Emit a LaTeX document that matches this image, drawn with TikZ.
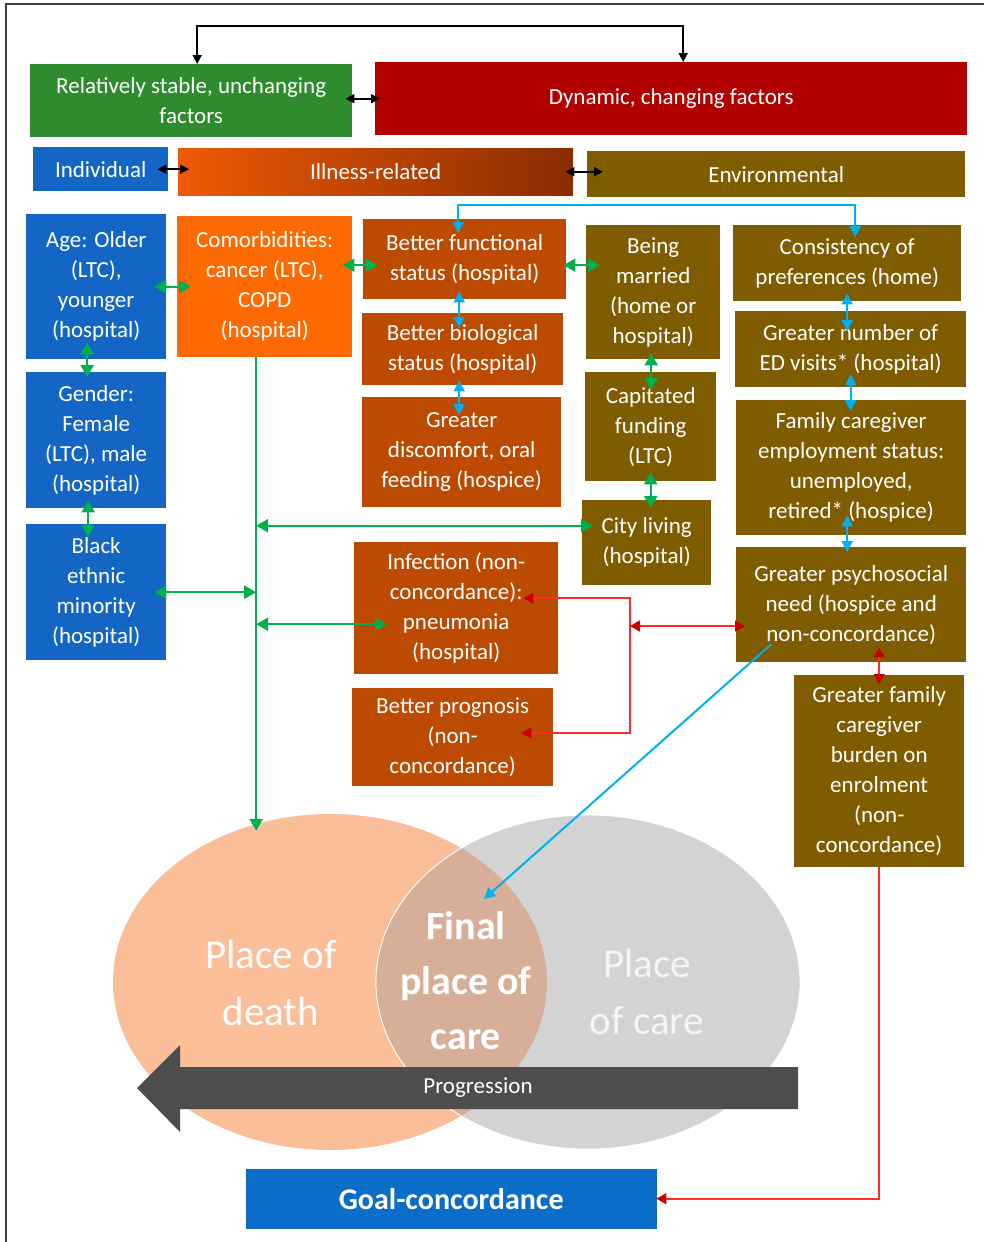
\documentclass[tikz,border=0pt]{standalone}
\usepackage{fontspec}
\setmainfont{Carlito}
\usepackage{tikz}
\usetikzlibrary{shapes.geometric,arrows.meta,calc}
\definecolor{stablegreen}{HTML}{2E8B2E}
\definecolor{dynamicred}{HTML}{B00000}
\definecolor{indivblue}{HTML}{1466C4}
\definecolor{goalblue}{HTML}{0A6EC8}
\definecolor{illlight}{HTML}{EE5A06}
\definecolor{illdark}{HTML}{8A2C00}
\definecolor{comorbor}{HTML}{FF6A00}
\definecolor{illrust}{HTML}{BC4A00}
\definecolor{envolive}{HTML}{7F5C00}
\definecolor{linkgreen}{HTML}{00B050}
\definecolor{linkcyan}{HTML}{00B0F0}
\definecolor{linkred}{HTML}{FF2A2A}
\definecolor{headred}{HTML}{C80000}
\definecolor{deathpeach}{HTML}{FABE98}
\definecolor{caregrey}{HTML}{D3D3D3}
\definecolor{finaltan}{HTML}{D7AE97}
\definecolor{arrowgrey}{HTML}{4D4D4D}
\definecolor{framegrey}{HTML}{3F3F3F}

\begin{document}
\begin{tikzpicture}[x=1pt, y=-1pt,
  factor/.style={rectangle, anchor=north west, inner sep=2pt, align=center, text=white, font=\fontsize{23}{30}\selectfont},
  reach/.style 2 args={shorten <=-#1, shorten >=-#2},
  blk/.style={draw=black, line width=1.6pt, >={Triangle[length=9pt,width=9pt]}, <->},
  grn/.style={draw=linkgreen, line width=2.4pt, >={Triangle[length=12pt,width=13pt]}, <->},
  cyn/.style={draw=linkcyan, line width=2pt, >={Triangle[length=11pt,width=11pt]}, <->},
  rd/.style={draw=linkred, line width=1.6pt, >={Triangle[length=10pt,width=11pt,color=headred]}, <->}]
\useasboundingbox (0,0) rectangle (984,1242);
\draw[framegrey, line width=2pt] (984,4) -- (6,4) -- (6,1242);

% headings
\node[factor, fill=stablegreen, minimum width=322pt, minimum height=73pt] (stable) at (30,64) {Relatively stable, unchanging\\factors};
\node[factor, fill=dynamicred, minimum width=592pt, minimum height=73pt] (dynamic) at (375,62) {Dynamic, changing factors};
\node[factor, fill=indivblue, minimum width=135pt, minimum height=44pt] (indiv) at (33,147) {Individual};
\node[factor, left color=illlight, right color=illdark, minimum width=395pt, minimum height=47pt] (illness) at (178,148) {Illness-related};
\node[factor, fill=envolive, minimum width=378pt, minimum height=46pt] (environ) at (587,151) {Environmental};

% individual factors
\node[factor, fill=indivblue, minimum width=140pt, minimum height=145pt] (age) at (26,214) {Age: Older\\(LTC),\\younger\\(hospital)};
\node[factor, fill=indivblue, minimum width=140pt, minimum height=136pt] (gender) at (26,372) {Gender:\\Female\\(LTC), male\\(hospital)};
\node[factor, fill=indivblue, minimum width=140pt, minimum height=136pt] (black) at (26,524) {Black\\ethnic\\minority\\(hospital)};

% illness-related factors
\node[factor, fill=comorbor, minimum width=175pt, minimum height=141pt] (comorb) at (177,216) {Comorbidities:\\cancer (LTC),\\COPD\\(hospital)};
\node[factor, fill=illrust, minimum width=203pt, minimum height=80pt] (functional) at (363,219) {Better functional\\status (hospital)};
\node[factor, fill=illrust, minimum width=201pt, minimum height=72pt] (biological) at (362,313) {Better biological\\status (hospital)};
\node[factor, fill=illrust, minimum width=199pt, minimum height=110pt] (discomfort) at (362,397) {Greater\\discomfort, oral\\feeding (hospice)};
\node[factor, fill=illrust, minimum width=204pt, minimum height=132pt] (infection) at (354,542) {Infection (non-\\concordance):\\pneumonia\\(hospital)};
\node[factor, fill=illrust, minimum width=201pt, minimum height=98pt] (prognosis) at (352,688) {Better prognosis\\(non-\\concordance)};

% environmental factors
\node[factor, fill=envolive, minimum width=134pt, minimum height=134pt] (married) at (586,225) {Being\\married\\(home or\\hospital)};
\node[factor, fill=envolive, minimum width=131pt, minimum height=109pt] (capitated) at (585,372) {Capitated\\funding\\(LTC)};
\node[factor, fill=envolive, minimum width=129pt, minimum height=85pt] (city) at (582,500) {City living\\(hospital)};
\node[factor, fill=envolive, minimum width=228pt, minimum height=76pt] (consistency) at (733,225) {Consistency of\\preferences (home)};
\node[factor, fill=envolive, minimum width=231pt, minimum height=76pt] (edvisits) at (735,311) {Greater number of\\ED visits* (hospital)};
\node[factor, fill=envolive, minimum width=230pt, minimum height=135pt] (employ) at (736,400) {Family caregiver\\employment status:\\unemployed,\\retired* (hospice)};
\node[factor, fill=envolive, minimum width=230pt, minimum height=115pt] (psycho) at (736,547) {Greater psychosocial\\need (hospice and\\non-concordance)};
\node[factor, fill=envolive, minimum width=170pt, minimum height=192pt] (burden) at (794,675) {Greater family\\caregiver\\burden on\\enrolment\\(non-\\concordance)};

% venn of places
\node[ellipse, fill=deathpeach, minimum width=434pt, minimum height=336pt, inner sep=0pt] (death) at (330,982) {};
\node[ellipse, fill=caregrey, draw=white, line width=0.8pt, minimum width=424pt, minimum height=334pt, inner sep=0pt] (care) at (588,982) {};
\begin{scope}
  \clip (death.center) ellipse [x radius=217, y radius=168];
  \fill[finaltan] (care.center) ellipse [x radius=212, y radius=167];
  \draw[white, line width=0.8pt] (care.center) ellipse [x radius=212, y radius=167];
\end{scope}
\node[font=\fontsize{41}{57}\selectfont, text=white, align=center] (deathlbl) at (271,983) {Place of\\death};
\node[font=\fontsize{40}{55}\selectfont\bfseries, text=white, align=center] (finallbl) at (466,981) {Final\\place of\\care};
\node[font=\fontsize{41}{57}\selectfont, text=white!96!black, align=center] (carelbl) at (647,992) {Place\\of care};
\fill[arrowgrey] (798,1067) -- (180,1067) -- (180,1045) -- (137,1088) -- (180,1132) -- (180,1109) -- (798,1109) -- cycle;
\node[font=\fontsize{23}{28}\selectfont, text=white] (progress) at (478,1088) {Progression};
\node[factor, fill=goalblue, draw=indivblue, font=\bfseries\fontsize{30}{36}\selectfont, minimum width=410pt, minimum height=59pt] (goal) at (246,1169) {Goal-concordance};

\coordinate (trunk) at ($(comorb.south)+(-8.5,0)$);
\coordinate (fpc) at (484,899);
\coordinate (brk) at (630,733);
\coordinate (brkmid) at (630,626);

% black links
\draw[blk] ([xshift=6pt]stable.north) -- ++(0,-38) -| ([xshift=12pt]dynamic.north);
\draw[blk, reach={7pt}{5pt}] (stable.east |- dynamic.west) -- (dynamic.west);
\draw[blk, reach={11pt}{11pt}] (indiv.east) -- (indiv.east -| illness.west);
\draw[blk, reach={8pt}{16pt}] (illness.east) -- (illness.east -| environ.west);

% green links
\draw[grn, reach={12pt}{14pt}] (age.east) -- (age.east -| comorb.west);
\draw[grn, reach={10pt}{15pt}] ($(comorb.east |- functional.west)+(0,6)$) -- ($(functional.west)+(0,6)$);
\draw[grn, reach={3pt}{14pt}] ($(functional.east)+(0,6)$) -- ($(functional.east -| married.west)+(0,6)$);
\draw[grn, reach={17pt}{5pt}] ($(age.south)+(-9,0)$) -- ($(age.south |- gender.north)+(-9,0)$);
\draw[grn, reach={8pt}{13pt}] ($(gender.south)+(-8,0)$) -- ($(gender.south |- black.north)+(-8,0)$);
\draw[grn, reach={6pt}{18pt}] ($(married.south)+(-2,0)$) -- ($(married.south |- capitated.north)+(-2,0)$);
\draw[grn, reach={9pt}{8pt}] (capitated.south) -- (capitated.south |- city.north);
\draw[grn, ->, reach={0pt}{17pt}] (trunk) -- (trunk |- death.north);
\draw[grn, reach={0pt}{11pt}] ($(trunk |- city.west)+(0,-17)$) -- ($(city.west)+(0,-17)$);
\draw[grn, reach={12pt}{0pt}] (black.east) -- (black.east -| trunk);
\draw[grn, reach={0pt}{33pt}] ($(trunk |- infection.west)+(0,16)$) -- ($(infection.west)+(0,16)$);

% cyan links
\draw[cyn, reach={14pt}{12pt}] ([xshift=-6.5pt]functional.north) -- ++(0,-14) -| ([xshift=8pt]consistency.north);
\draw[cyn, reach={8pt}{15pt}] ($(functional.south)+(-5.5,0)$) -- ($(functional.south |- biological.north)+(-5.5,0)$);
\draw[cyn, reach={5pt}{18pt}] ($(biological.south)+(-3.5,0)$) -- ($(biological.south |- discomfort.north)+(-3.5,0)$);
\draw[cyn, reach={8pt}{20pt}] (consistency.south) -- (consistency.south |- edvisits.north);
\draw[cyn, reach={13pt}{11pt}] (edvisits.south) -- (edvisits.south |- employ.north);
\draw[cyn, reach={20pt}{5pt}] ($(employ.south)+(-4,0)$) -- ($(employ.south |- psycho.north)+(-4,0)$);
\draw[cyn, ->] ($(psycho.south west)+(35,-18)$) -- (fpc);

% red links
\draw[rd, reach={35pt}{32pt}] ($(infection.east)+(0,-10)$) -| (brk) -- (brk -| prognosis.east);
\draw[rd, reach={0pt}{9pt}] (brkmid) -- (brkmid -| psycho.west);
\draw[rd, reach={15pt}{9pt}] (burden.north |- psycho.south) -- (burden.north);
\draw[rd, ->] (burden.south) |- (goal.east);
\end{tikzpicture}
\end{document}
